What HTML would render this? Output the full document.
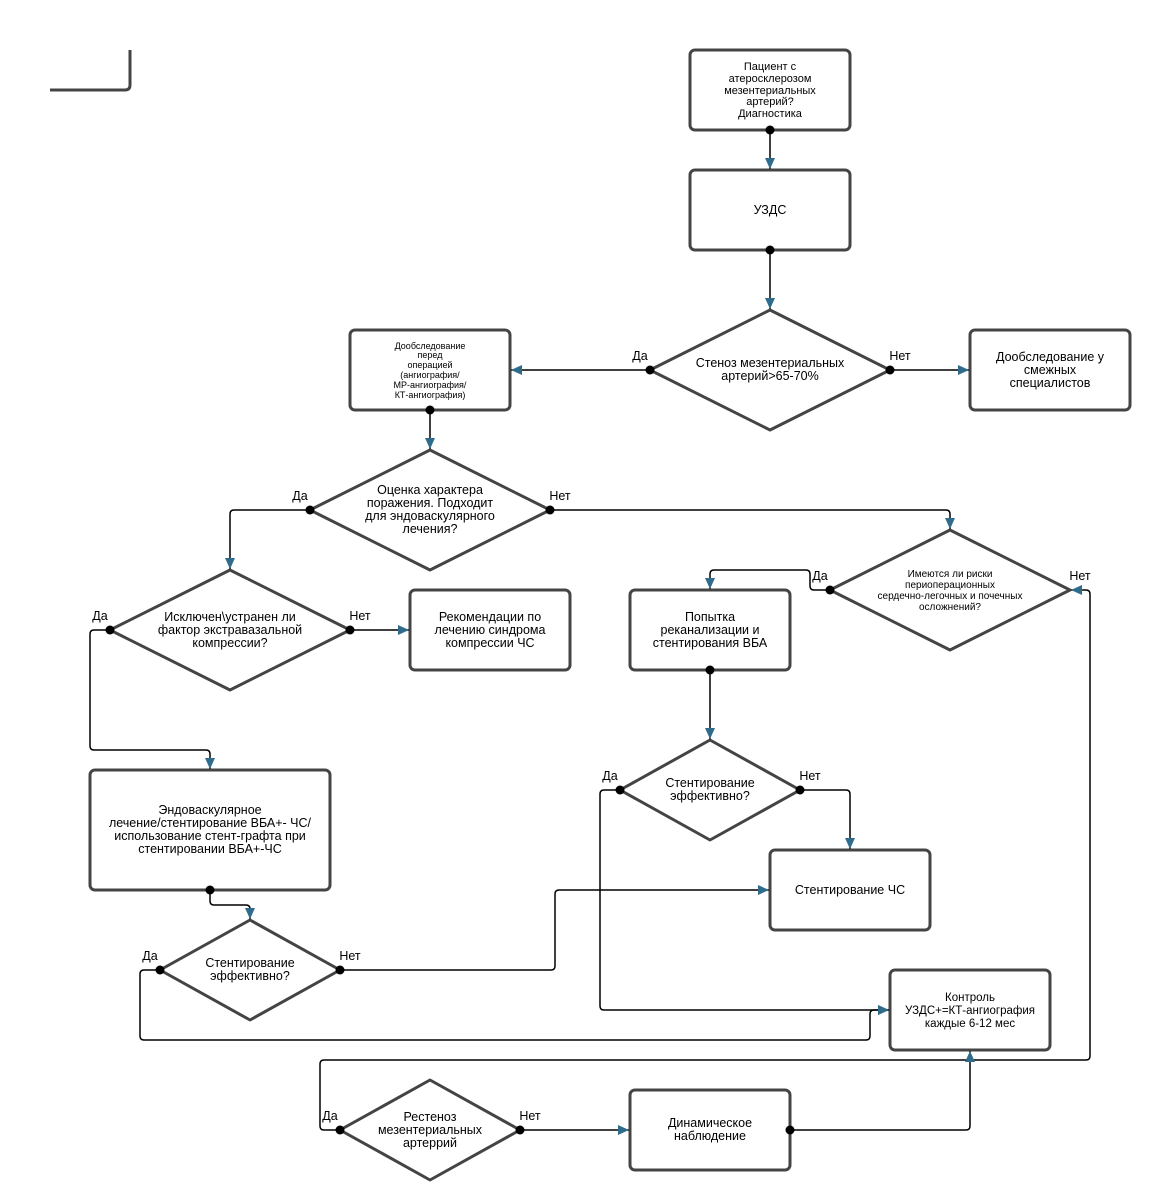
<!DOCTYPE html>
<html><head><meta charset="utf-8"><style>
html,body{margin:0;padding:0;background:#fff;}
svg{display:block;}
text{font-family:"Liberation Sans",sans-serif;fill:#000;}
</style></head><body>
<svg width="1149" height="1199" viewBox="0 0 1149 1199" xmlns="http://www.w3.org/2000/svg">
<defs>
<marker id="a" markerWidth="12" markerHeight="10" refX="11" refY="5" orient="auto" markerUnits="userSpaceOnUse">
<path d="M0,0 L11,5 L0,10 Z" fill="#2f6b8a"/></marker>
</defs>
<g fill="none" stroke="#444" stroke-width="3" stroke-linejoin="round">
<path d="M50,90 H125 Q130,90 130,85 V50"/>
<rect x="690" y="50" width="160" height="80" rx="5"/>
<rect x="690" y="170" width="160" height="80" rx="5"/>
<polygon points="650,370 770,310 890,370 770,430"/>
<rect x="350" y="330" width="160" height="80" rx="5"/>
<rect x="970" y="330" width="160" height="80" rx="5"/>
<polygon points="310,510 430,450 550,510 430,570"/>
<polygon points="110,630 230,570 350,630 230,690"/>
<rect x="410" y="590" width="160" height="80" rx="5"/>
<polygon points="830,590 950,530 1070,590 950,650"/>
<rect x="630" y="590" width="160" height="80" rx="5"/>
<polygon points="620,790 710,740 800,790 710,840"/>
<rect x="770" y="850" width="160" height="80" rx="5"/>
<rect x="90" y="770" width="240" height="120" rx="5"/>
<polygon points="160,970 250,920 340,970 250,1020"/>
<rect x="890" y="970" width="160" height="80" rx="5"/>
<polygon points="340,1130 430,1080 520,1130 430,1180"/>
<rect x="630" y="1090" width="160" height="80" rx="5"/>
</g>
<g fill="none" stroke="#000" stroke-width="1.5" marker-end="url(#a)">
<path d="M770,130 V169"/>
<path d="M770,250 V309"/>
<path d="M650,370 H511"/>
<path d="M890,370 H969"/>
<path d="M430,410 V449"/>
<path d="M310,510 H234 Q230,510 230,514 V569"/>
<path d="M550,510 H946 Q950,510 950,514 V529"/>
<path d="M110,630 H94 Q90,630 90,634 V746 Q90,750 94,750 H206 Q210,750 210,754 V769"/>
<path d="M350,630 H409"/>
<path d="M830,590 H814 Q810,590 810,586 V574 Q810,570 806,570 H714 Q710,570 710,574 V589"/>
<path d="M340,1130 H324 Q320,1130 320,1126 V1064 Q320,1060 324,1060 H1086 Q1090,1060 1090,1056 V594 Q1090,590 1086,590 H1071"/>
<path d="M710,670 V739"/>
<path d="M620,790 H604 Q600,790 600,794 V1006 Q600,1010 604,1010 H889"/>
<path d="M800,790 H846 Q850,790 850,794 V849"/>
<path d="M210,890 V901 Q210,905 214,905 H246 Q250,905 250,909 V919"/>
<path d="M340,970 H551 Q555,970 555,966 V894 Q555,890 559,890 H769"/>
<path d="M160,970 H144 Q140,970 140,974 V1036 Q140,1040 144,1040 H866 Q870,1040 870,1036 V1014 Q870,1010 874,1010 H889"/>
<path d="M520,1130 H629"/>
<path d="M790,1130 H966 Q970,1130 970,1126 V1051"/>
</g>
<g fill="#000">
<circle cx="770" cy="130" r="4.5"/><circle cx="770" cy="250" r="4.5"/>
<circle cx="650" cy="370" r="4.5"/><circle cx="890" cy="370" r="4.5"/>
<circle cx="430" cy="410" r="4.5"/><circle cx="310" cy="510" r="4.5"/>
<circle cx="550" cy="510" r="4.5"/><circle cx="110" cy="630" r="4.5"/>
<circle cx="350" cy="630" r="4.5"/><circle cx="830" cy="590" r="4.5"/>
<circle cx="340" cy="1130" r="4.5"/><circle cx="710" cy="670" r="4.5"/>
<circle cx="620" cy="790" r="4.5"/><circle cx="800" cy="790" r="4.5"/>
<circle cx="210" cy="890" r="4.5"/><circle cx="340" cy="970" r="4.5"/>
<circle cx="160" cy="970" r="4.5"/><circle cx="520" cy="1130" r="4.5"/>
<circle cx="790" cy="1130" r="4.5"/>
</g>
<g font-size="12.5" text-anchor="middle">
<g font-size="11"><text x="770" y="70">Пациент с</text><text x="770" y="82">атеросклерозом</text><text x="770" y="94">мезентериальных</text><text x="770" y="105">артерий?</text><text x="770" y="117">Диагностика</text></g>
<text x="770" y="214">УЗДС</text>
<text x="770" y="367">Стеноз мезентериальных</text><text x="770" y="380">артерий&gt;65-70%</text>
<g font-size="9"><text x="430" y="349">Дообследование</text><text x="430" y="358">перед</text><text x="430" y="368">операцией</text><text x="430" y="378">(ангиография/</text><text x="430" y="388">МР-ангиография/</text><text x="430" y="398">КТ-ангиография)</text></g>
<text x="1050" y="361">Дообследование у</text><text x="1050" y="374">смежных</text><text x="1050" y="387">специалистов</text>
<text x="430" y="494">Оценка характера</text><text x="430" y="507">поражения. Подходит</text><text x="430" y="520">для эндоваскулярного</text><text x="430" y="533">лечения?</text>
<text x="230" y="621">Исключен\устранен ли</text><text x="230" y="634">фактор экстравазальной</text><text x="230" y="647">компрессии?</text>
<text x="490" y="621">Рекомендации по</text><text x="490" y="634">лечению синдрома</text><text x="490" y="647">компрессии ЧС</text>
<g font-size="10"><text x="950" y="577">Имеются ли риски</text><text x="950" y="588">периоперационных</text><text x="950" y="599">сердечно-легочных и почечных</text><text x="950" y="610">осложнений?</text></g>
<text x="710" y="621">Попытка</text><text x="710" y="634">реканализации и</text><text x="710" y="647">стентирования ВБА</text>
<text x="710" y="787">Стентирование</text><text x="710" y="800">эффективно?</text>
<text x="850" y="894">Стентирование ЧС</text>
<text x="210" y="814">Эндоваскулярное</text><text x="210" y="827">лечение/стентирование ВБА+- ЧС/</text><text x="210" y="840">использование стент-графта при</text><text x="210" y="853">стентировании ВБА+-ЧС</text>
<text x="250" y="967">Стентирование</text><text x="250" y="980">эффективно?</text>
<g font-size="11.5"><text x="970" y="1001">Контроль</text><text x="970" y="1014">УЗДС+=КТ-ангиография</text><text x="970" y="1027">каждые 6-12 мес</text></g>
<text x="430" y="1121">Рестеноз</text><text x="430" y="1134">мезентериальных</text><text x="430" y="1147">артеррий</text>
<text x="710" y="1127">Динамическое</text><text x="710" y="1140">наблюдение</text>
</g>
<g font-size="12.5" text-anchor="middle">
<text x="640" y="360">Да</text><text x="900" y="360">Нет</text>
<text x="300" y="500">Да</text><text x="560" y="500">Нет</text>
<text x="100" y="620">Да</text><text x="360" y="620">Нет</text>
<text x="820" y="580">Да</text><text x="1080" y="580">Нет</text>
<text x="610" y="780">Да</text><text x="810" y="780">Нет</text>
<text x="150" y="960">Да</text><text x="350" y="960">Нет</text>
<text x="330" y="1120">Да</text><text x="530" y="1120">Нет</text>
</g>
</svg>
</body></html>
